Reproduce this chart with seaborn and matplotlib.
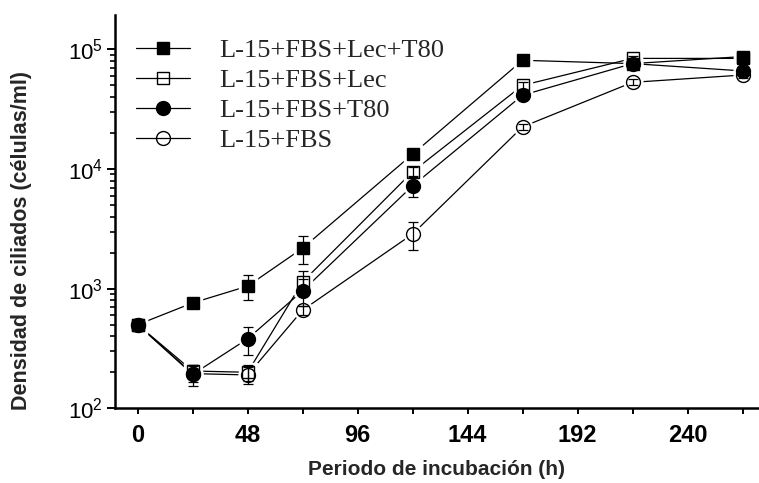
import matplotlib
matplotlib.use("Agg")
import matplotlib.pyplot as plt
from matplotlib.lines import Line2D
from matplotlib.ticker import FixedLocator, LogLocator, FixedFormatter, NullFormatter
import seaborn as sns
import pandas as pd
import numpy as np

# ---- data ----
time_h = [0, 24, 48, 72, 120, 168, 216, 264]
lec_t80 = [500, 760, 1050, 2180, 13300, 81000, 76000, 87000]
lec_t80_err = [30, 40, 250, 560, 1200, 3000, 3000, 3000]
lec = [500, 205, 200, 1140, 9500, 50000, 84000, 84000]
lec_err = [30, 25, 30, 260, 800, 3000, 4000, 3000]
t80 = [500, 192, 381, 960, 7240, 41400, 76000, 66000]
t80_err = [30, 38, 100, 250, 1380, 3000, 4000, 3000]
fbs = [500, 195, 190, 662, 2860, 22500, 53000, 61000]
fbs_err = [30, 30, 30, 60, 740, 1300, 3000, 3000]

series_names = ["L-15+FBS+Lec+T80", "L-15+FBS+Lec", "L-15+FBS+T80", "L-15+FBS"]
series_vals = [lec_t80, lec, t80, fbs]
series_errs = [lec_t80_err, lec_err, t80_err, fbs_err]
x_ticks = [0, 48, 96, 144, 192, 240]
y_ticks = [1e2, 1e3, 1e4, 1e5]
y_tick_labels = ["$\\mathregular{10^{2}}$", "$\\mathregular{10^{3}}$",
                 "$\\mathregular{10^{4}}$", "$\\mathregular{10^{5}}$"]
x_label = "Periodo de incubación (h)"
y_label = "Densidad de ciliados (células/ml)"

styles = [
    dict(marker="s", mfc="black", ms=9.0),
    dict(marker="s", mfc="none", ms=9.0),
    dict(marker="o", mfc="black", ms=10.0),
    dict(marker="o", mfc="none", ms=10.0),
]

sns.set_theme(style="ticks")
sans = ["Liberation Sans", "DejaVu Sans"]
serif = ["Liberation Serif", "DejaVu Serif"]
plt.rcParams["font.family"] = sans

df = pd.DataFrame({
    "t": np.tile(time_h, len(series_names)),
    "v": np.concatenate([np.asarray(v, float) for v in series_vals]),
    "s": np.repeat(series_names, len(time_h)),
})

fig = plt.figure(figsize=(7.59, 4.83), dpi=100)
ax = fig.add_axes([115 / 759, (483 - 408.3) / 483, (759 - 115) / 759, (408.3 - 15) / 483])

sns.lineplot(data=df, x="t", y="v", hue="s", hue_order=series_names,
             palette=["black"] * 4, linewidth=0.9, legend=False, ax=ax, zorder=1)

for vals, errs, st in zip(series_vals, series_errs, styles):
    # white halo to create a gap between line and marker
    ax.plot(time_h, vals, ls="none", marker=st["marker"], ms=st["ms"] + 3.5,
            mfc="white", mec="white", zorder=2)
for vals, errs, st in zip(series_vals, series_errs, styles):
    ax.errorbar(time_h, vals, yerr=errs, fmt="none", ecolor="black",
                elinewidth=0.9, capsize=3.6, capthick=0.9, zorder=3)
for vals, errs, st in zip(series_vals, series_errs, styles):
    ax.plot(time_h, vals, ls="none", marker=st["marker"], ms=st["ms"],
            mfc=st["mfc"], mec="black", mew=1.0, zorder=4)

ax.set_yscale("log")
ax.set_xlim(-9.9, 271.2)
ax.set_ylim(1e2, 10 ** 5.287)

ax.xaxis.set_major_locator(FixedLocator(x_ticks))
ax.xaxis.set_minor_locator(FixedLocator(list(range(24, 270, 48))))
ax.yaxis.set_major_locator(FixedLocator(y_ticks))
ax.yaxis.set_major_formatter(FixedFormatter(y_tick_labels))
ax.yaxis.set_minor_locator(LogLocator(base=10, subs=np.arange(2, 10)))
ax.yaxis.set_minor_formatter(NullFormatter())

for s in ["top", "right"]:
    ax.spines[s].set_visible(False)
for s in ["left", "bottom"]:
    ax.spines[s].set_linewidth(1.8)
    ax.spines[s].set_color("black")

ax.tick_params(axis="x", which="both", direction="out", length=4.5, width=1.4,
               pad=7, colors="black")
ax.tick_params(axis="y", which="major", direction="out", length=6.0, width=1.4,
               pad=2.5, colors="black")
ax.tick_params(axis="y", which="minor", direction="out", length=3.6, width=1.2,
               colors="black")
for lab in ax.get_xticklabels():
    lab.set_fontsize(17)
    lab.set_fontweight("bold")
for lab in ax.get_yticklabels():
    lab.set_fontsize(16)

ax.set_xlabel(x_label, fontsize=15, fontweight="bold", labelpad=9)
ax.set_ylabel(y_label, fontsize=15.5, fontweight="bold")
ax.yaxis.set_label_coords((32 - 115) / 644, (408.3 - 240) / 393.3)
ax.grid(False)

handles = [Line2D([0], [0], color="black", lw=0.9, marker=st["marker"], ms=st["ms"],
                  mfc=st["mfc"], mec="black", mew=1.0) for st in styles]
leg = fig.legend(handles, series_names, loc="upper left",
                 bbox_to_anchor=(136 / 759, 1 - 39 / 483), frameon=False,
                 prop={"family": serif, "size": 19}, handlelength=2.05,
                 handletextpad=1.1, labelspacing=0.24, borderaxespad=0,
                 borderpad=0)

fig.savefig("out.png", dpi=100, facecolor="white")
